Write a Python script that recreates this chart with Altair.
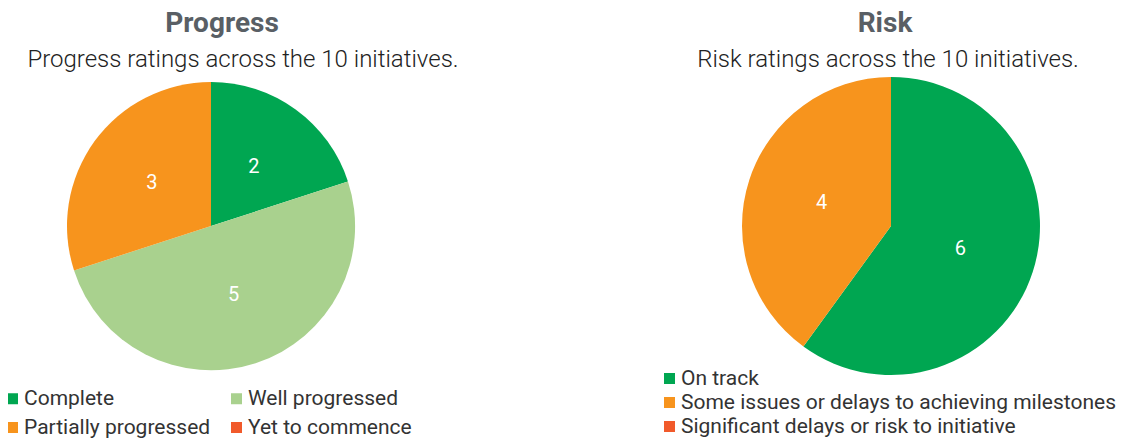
import altair as alt
import pandas as pd

progress_categories = ["Complete", "Well progressed", "Partially progressed", "Yet to commence"]
progress_counts = [2, 5, 3, 0]
progress_colors = ["#00A651", "#A9D18E", "#F7941D", "#F15A2B"]

risk_categories = ["On track", "Some issues or delays to achieving milestones",
                   "Significant delays or risk to initiative"]
risk_counts = [6, 4, 0]
risk_colors = ["#00A651", "#F7941D", "#F15A2B"]

FONT = "Roboto"


def panel(cats, counts, colors, title, subtitle, width, height, cx, cy, radius,
          title_x, sub_x, legend_x, legend_y, columns, row_padding, col_padding):
    df = pd.DataFrame({"category": cats, "count": counts, "order": list(range(len(cats)))})
    base = alt.Chart(df)
    theta = alt.Theta("count:Q", stack=True)
    order = alt.Order("order:Q", sort="ascending")
    color = alt.Color(
        "category:N",
        scale=alt.Scale(domain=cats, range=colors),
        legend=alt.Legend(
            title=None, orient="none", legendX=legend_x, legendY=legend_y,
            direction="horizontal", columns=columns, symbolType="square",
            symbolSize=121, symbolStrokeWidth=0, labelFont=FONT, labelFontSize=21,
            labelColor="#333333", labelLimit=600, labelOffset=1,
            padding=0, symbolOffset=-6, rowPadding=row_padding,
            columnPadding=col_padding,
        ),
    )
    arcs = base.mark_arc(outerRadius=radius).encode(
        theta=theta, color=color, order=order,
        x=alt.value(cx), y=alt.value(cy),
    )
    labels = base.transform_filter("datum.count > 0").mark_text(
        radius=73, font=FONT, fontSize=20, color="white",
        align="center", baseline="middle",
    ).encode(theta=theta, order=order, text="count:Q",
             x=alt.value(cx), y=alt.value(cy))
    one = alt.Data(values=[{"a": 1}])
    t = alt.Chart(one).mark_text(
        text=title, font=FONT, fontSize=28, fontWeight="bold", color="#595F65",
        align="center", baseline="alphabetic",
    ).encode(x=alt.value(title_x), y=alt.value(24))
    st = alt.Chart(one).mark_text(
        text=subtitle, font=FONT, fontSize=24, fontWeight=300, color="#222222",
        align="center", baseline="alphabetic",
    ).encode(x=alt.value(sub_x), y=alt.value(59))
    return alt.layer(arcs, labels, t, st).properties(width=width, height=height)


left = panel(progress_categories, progress_counts, progress_colors,
             "Progress", "Progress ratings across the 10 initiatives.",
             465, 415, 203, 218, 144, 214, 235, 0, 380, 2, 7, 20)
right = panel(risk_categories, risk_counts, risk_colors,
              "Risk", "Risk ratings across the 10 initiatives.",
              440, 415, 231, 218, 149, 225, 228, 5, 360, 1, 2, 10)

chart = alt.hconcat(left, right, spacing=187).resolve_scale(
    color="independent", theta="independent"
).configure(padding=0).configure_view(stroke=None)

chart.save("out.html", embed_options={"renderer": "svg", "actions": False})
